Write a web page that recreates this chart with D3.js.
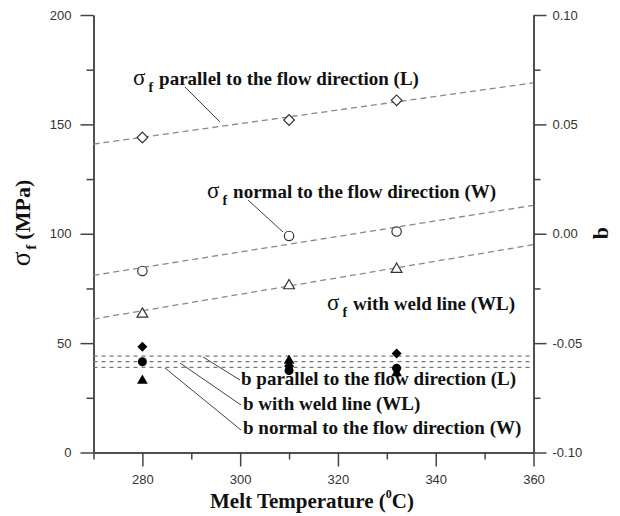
<!DOCTYPE html>
<html>
<head>
<meta charset="utf-8">
<script src="https://cdn.jsdelivr.net/npm/d3@7"></script>
<style>
  body { margin: 0; background: #fff; }
  svg text { fill: #111; }
</style>
</head>
<body>
<svg id="chart" width="620" height="516"></svg>
<script>
// data
var temps = [280, 310, 332];
var sigmaL = [144, 152, 161];
var sigmaW = [83, 99, 101];
var sigmaWL = [63.5, 76.5, 84];
var bL = [-0.0517, -0.0605, -0.0547];
var bW = [-0.0585, -0.0625, -0.0615];
var bWL = [-0.0672, -0.058, -0.0637];
// fitted lines, ends at 270 and 360 °C
var fitT = [270, 360];
var fitL = [141, 169];
var fitW = [81, 113];
var fitWL = [61, 95];
var bMeans = [-0.0559, -0.0585, -0.0611];

var xTicks = [280, 300, 320, 340, 360];
var xMinor = [270, 290, 310, 330, 350];
var yTicks = [0, 50, 100, 150, 200];
var yMinor = [25, 75, 125, 175];
var bTicks = [-0.1, -0.05, 0, 0.05, 0.1];
var bLabels = ["-0.10", "-0.05", "0.00", "0.05", "0.10"];
var bMinor = [-0.075, -0.025, 0.025, 0.075];

var svg = d3.select("#chart");

var x = d3.scaleLinear().domain([270, 360]).range([93.5, 533.5]);
var y = d3.scaleLinear().domain([0, 200]).range([452.5, 15]);
var yb = d3.scaleLinear().domain([-0.1, 0.1]).range([452.5, 15]);

var axisColor = "#444";

function styleAxis(g) {
  g.selectAll("path").attr("stroke", axisColor).attr("stroke-width", 1.5);
  g.selectAll("line").attr("stroke", axisColor).attr("stroke-width", 1.5);
  g.selectAll("text").attr("font-family", "Liberation Sans, Arial, sans-serif")
    .attr("font-size", 13).style("fill", "#333");
}

// left axis
svg.append("g").attr("transform", "translate(" + x(270) + ",0)")
  .call(d3.axisLeft(y).tickValues(yMinor).tickSize(7).tickFormat("").tickSizeOuter(0))
  .call(styleAxis);
svg.append("g").attr("transform", "translate(" + x(270) + ",0)")
  .call(d3.axisLeft(y).tickValues(yTicks).tickSize(13).tickPadding(9).tickSizeOuter(0))
  .call(styleAxis);

// right axis
svg.append("g").attr("transform", "translate(" + x(360) + ",0)")
  .call(d3.axisRight(yb).tickValues(bMinor).tickSize(7).tickFormat("").tickSizeOuter(0))
  .call(styleAxis);
svg.append("g").attr("transform", "translate(" + x(360) + ",0)")
  .call(d3.axisRight(yb).tickValues(bTicks).tickSize(13).tickPadding(6).tickSizeOuter(0)
    .tickFormat(function(d, i) { return bLabels[i]; }))
  .call(styleAxis);

// bottom axis
svg.append("g").attr("transform", "translate(0," + y(0) + ")")
  .call(d3.axisBottom(x).tickValues(xMinor).tickSize(7).tickFormat("").tickSizeOuter(0))
  .call(styleAxis);
svg.append("g").attr("transform", "translate(0," + y(0) + ")")
  .call(d3.axisBottom(x).tickValues(xTicks).tickSize(14).tickPadding(8).tickSizeOuter(0))
  .call(styleAxis);

// fitted dashed lines
var line = d3.line().x(function(d) { return x(d[0]); }).y(function(d) { return y(d[1]); });
[fitL, fitW, fitWL].forEach(function(f) {
  svg.append("path")
    .attr("d", line(d3.zip(fitT, f)))
    .attr("fill", "none").attr("stroke", "#888").attr("stroke-width", 1.3)
    .attr("stroke-dasharray", "6,4");
});

// mean b lines
bMeans.forEach(function(v) {
  svg.append("line")
    .attr("x1", x(270)).attr("x2", x(360))
    .attr("y1", yb(v)).attr("y2", yb(v))
    .attr("stroke", "#777").attr("stroke-width", 1.3)
    .attr("stroke-dasharray", "4,4");
});

// markers
var diamond = d3.symbol().type(d3.symbolSquare).size(56);
var tri = d3.symbol().type(d3.symbolTriangle).size(50);

function openMarks(vals, kind) {
  var g = svg.append("g");
  vals.forEach(function(v, i) {
    var cx = x(temps[i]), cy = y(v);
    if (kind === "circle") {
      g.append("circle").attr("cx", cx).attr("cy", cy).attr("r", 4.7)
        .attr("fill", "#fff").attr("stroke", "#333").attr("stroke-width", 1.2);
    } else if (kind === "diamond") {
      g.append("path").attr("d", diamond()).attr("transform", "translate(" + cx + "," + cy + ") rotate(45)")
        .attr("fill", "#fff").attr("stroke", "#333").attr("stroke-width", 1.2);
    } else {
      g.append("path").attr("d", tri()).attr("transform", "translate(" + cx + "," + (cy + 0.5) + ")")
        .attr("fill", "#fff").attr("stroke", "#333").attr("stroke-width", 1.2);
    }
  });
}
openMarks(sigmaL, "diamond");
openMarks(sigmaW, "circle");
openMarks(sigmaWL, "triangle");

function filledMarks(vals, kind) {
  var g = svg.append("g");
  vals.forEach(function(v, i) {
    var cx = x(temps[i]), cy = yb(v);
    if (kind === "circle") {
      g.append("circle").attr("cx", cx).attr("cy", cy).attr("r", 4.5).attr("fill", "#000");
    } else if (kind === "diamond") {
      g.append("path").attr("d", d3.symbol().type(d3.symbolSquare).size(50)())
        .attr("transform", "translate(" + cx + "," + cy + ") rotate(45)").attr("fill", "#000");
    } else {
      g.append("path").attr("d", tri()).attr("transform", "translate(" + cx + "," + cy + ")").attr("fill", "#000");
    }
  });
}
filledMarks(bL, "diamond");
filledMarks(bWL, "triangle");
filledMarks(bW, "circle");

// annotations
var serif = "Liberation Serif, Times New Roman, serif";
function sigmaLabel(px, py, rest) {
  var t = svg.append("text").attr("x", px).attr("y", py)
    .attr("font-family", serif).attr("font-weight", "bold").attr("font-size", 19);
  t.append("tspan").attr("font-size", 23).attr("font-weight", "normal").text("σ");
  t.append("tspan").attr("font-size", 14).attr("dx", 3).attr("dy", 7).text("f");
  t.append("tspan").attr("dy", -7).attr("dx", 6).text(rest);
}
sigmaLabel(133, 85, "parallel to the flow direction (L)");
sigmaLabel(207, 198, "normal to the flow direction (W)");
sigmaLabel(327, 310, "with weld line (WL)");

function plainLabel(px, py, txt) {
  svg.append("text").attr("x", px).attr("y", py)
    .attr("font-family", serif).attr("font-weight", "bold").attr("font-size", 19).text(txt);
}
plainLabel(241, 385, "b parallel to the flow direction (L)");
plainLabel(243, 410, "b with weld line (WL)");
plainLabel(243, 434, "b normal to the flow direction (W)");

var leaders = [
  [185, 87, 220, 122],
  [248, 200, 283, 232],
  [203, 357, 240, 380],
  [180, 363, 241, 405],
  [165, 368, 241, 430]
];
leaders.forEach(function(l) {
  svg.append("line").attr("x1", l[0]).attr("y1", l[1]).attr("x2", l[2]).attr("y2", l[3])
    .attr("stroke", "#444").attr("stroke-width", 1);
});

// axis titles
var lt = svg.append("text").attr("transform", "translate(30,223) rotate(-90)")
  .attr("text-anchor", "middle").attr("font-family", serif).attr("font-weight", "bold").attr("font-size", 22);
lt.append("tspan").attr("font-weight", "normal").attr("font-size", 27).text("σ");
lt.append("tspan").attr("font-size", 15).attr("dy", 6).attr("dx", 2).text("f");
lt.append("tspan").attr("dy", -6).attr("dx", 5).text("(MPa)");

svg.append("text").attr("transform", "translate(608,233) rotate(-90)")
  .attr("text-anchor", "middle").attr("font-family", serif).attr("font-weight", "bold").attr("font-size", 22)
  .text("b");

var bt = svg.append("text").attr("x", 312).attr("y", 508)
  .attr("text-anchor", "middle").attr("font-family", serif).attr("font-weight", "bold").attr("font-size", 21);
bt.append("tspan").text("Melt Temperature (");
bt.append("tspan").attr("font-size", 12).attr("dy", -10).text("0");
bt.append("tspan").attr("dy", 10).attr("dx", 0).text("C)");
</script>
</body>
</html>
